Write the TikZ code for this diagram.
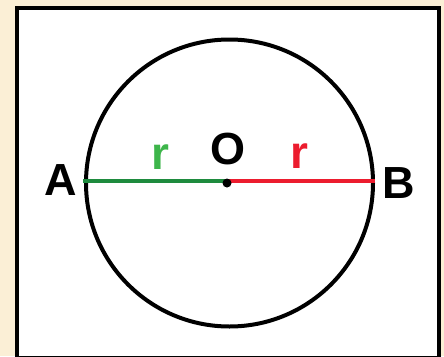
\documentclass[tikz,border=0pt]{standalone}
\usepackage{fontspec}
\setmainfont{Liberation Sans}
\definecolor{paper}{HTML}{FBEFD6}
\definecolor{radgreen}{HTML}{1E8B3E}
\definecolor{lightgreen}{HTML}{3DB54A}
\definecolor{radred}{HTML}{EC1C2E}
\tikzset{
  frame/.style={draw=black, line width=4pt, fill=white},
  ring/.style={draw=black, line width=4pt},
  radius/.style={line width=4.5pt},
  point/.style={font=\fontsize{45}{45}\selectfont\bfseries, text=black, inner sep=0pt},
  rlabel/.style={font=\fontsize{46}{46}\selectfont\bfseries, inner sep=0pt}
}
\begin{document}
\begin{tikzpicture}[x=1pt, y=-1pt]
  \fill[paper] (0,0) rectangle (444,356);
  \useasboundingbox (0,0) rectangle (444,356);
  \clip (0,0) rectangle (444,356);
  \draw[frame] (16.5,7.5) rectangle (438.5,357.5);

  \coordinate (O) at (227,181);
  \coordinate (A) at (83,181);
  \coordinate (B) at (375,181);

  \draw[ring] (229.5,183) circle (143.5);
  \draw[radius, radgreen] (A) -- (O);
  \draw[radius, radred] (O) -- (B);
  \fill[black] (O) ++(0,2) circle (4.5);

  \node[point] (labelA) at (61,180) {A};
  \node[point] (labelB) at (399,183) {B};
  \node[point] (labelO) at (228,149) {O};
  \node[rlabel, text=lightgreen] (rleft) at (160,157) {r};
  \node[rlabel, text=radred] (rright) at (299,156) {r};
\end{tikzpicture}
\end{document}
